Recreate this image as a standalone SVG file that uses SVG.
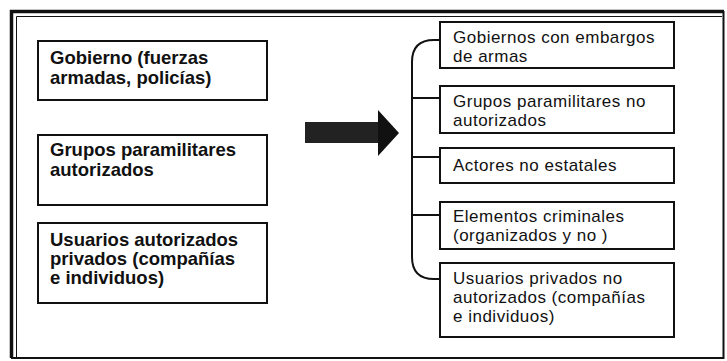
<svg xmlns="http://www.w3.org/2000/svg" width="727" height="361" viewBox="0 0 727 361">
<style>
.box{fill:#fff;stroke:#111;stroke-width:2}
.lt{font-family:"Liberation Sans",Arial,sans-serif;font-size:18.5px;font-weight:bold;fill:#111}
.rt{font-family:"Liberation Sans",Arial,sans-serif;font-size:17px;letter-spacing:0.5px;fill:#111}
.conn{fill:none;stroke:#111;stroke-width:2}
</style>
<rect width="727" height="361" fill="#fff"/>
<g id="frame">
<path d="M11.5,358 V11.5 H724" fill="none" stroke="#111" stroke-width="3.5"/>
<path d="M16.5,357 V16.5 H722" fill="none" stroke="#111" stroke-width="1"/>
<path d="M723.5,11 V358 H11" fill="none" stroke="#111" stroke-width="2"/>
</g>
<g id="n-gobierno">
<rect class="box" x="38" y="41" width="229" height="59"/>
<text class="lt" x="50" y="63.5">Gobierno (fuerzas</text>
<text class="lt" x="50" y="83.5">armadas, policías)</text>
</g>
<g id="n-grupos-aut">
<rect class="box" x="38" y="135" width="229" height="70"/>
<text class="lt" x="50" y="156">Grupos paramilitares</text>
<text class="lt" x="50" y="175.5">autorizados</text>
</g>
<g id="n-usuarios-aut">
<rect class="box" x="38" y="223" width="229" height="80"/>
<text class="lt" x="50" y="246">Usuarios autorizados</text>
<text class="lt" x="50" y="265">privados (compañías</text>
<text class="lt" x="50" y="284">e individuos)</text>
</g>
<g id="arrow">
<rect x="305" y="122" width="74" height="21" fill="#222"/>
<polygon points="378,110 399,133 378,156" fill="#111"/>
</g>
<g id="connectors">
<path class="conn" d="M440,40 H434 Q412,40 412,62 V257 Q412,279 434,279 H440"/>
<path class="conn" d="M412,98 H440"/>
<path class="conn" d="M412,157 H440"/>
<path class="conn" d="M412,215 H440"/>
</g>
<g id="n-gob-embargo">
<rect class="box" x="440" y="22" width="234" height="46"/>
<text class="rt" x="453" y="42.5">Gobiernos con embargos</text>
<text class="rt" x="453" y="61.5">de armas</text>
</g>
<g id="n-grupos-noaut">
<rect class="box" x="440" y="86" width="234" height="47"/>
<text class="rt" x="453" y="107">Grupos paramilitares no</text>
<text class="rt" x="453" y="126">autorizados</text>
</g>
<g id="n-actores">
<rect class="box" x="440" y="148" width="234" height="35"/>
<text class="rt" x="453" y="171">Actores no estatales</text>
</g>
<g id="n-criminales">
<rect class="box" x="440" y="202" width="234" height="47"/>
<text class="rt" x="453" y="222">Elementos criminales</text>
<text class="rt" x="453" y="241">(organizados y no )</text>
</g>
<g id="n-usuarios-noaut">
<rect class="box" x="440" y="263" width="234" height="74"/>
<text class="rt" x="453" y="284">Usuarios privados no</text>
<text class="rt" x="453" y="303">autorizados (compañías</text>
<text class="rt" x="453" y="322">e individuos)</text>
</g>
</svg>
